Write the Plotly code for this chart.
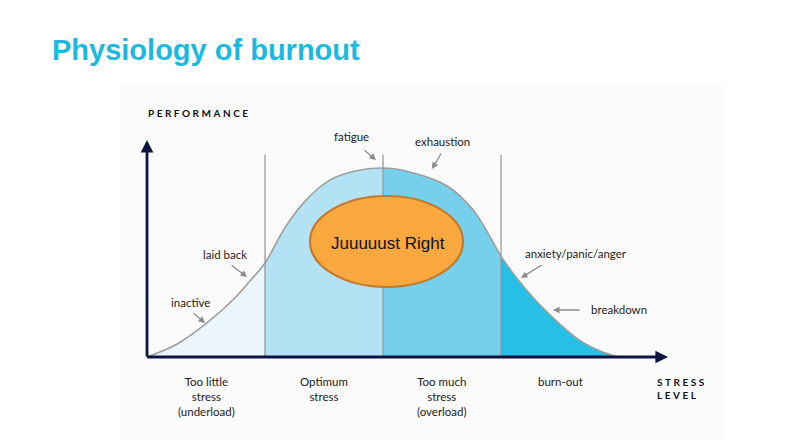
import plotly.graph_objects as go

# ---- data (stress level 0-100, performance 0-100) ----
stress = [0, 6.4, 12.7, 18.6, 21.8, 25, 29.2, 33.5, 38.8, 44.1, 50, 55.7, 63.6, 69.1, 72.7,
          75, 79, 84.3, 91.3, 96, 100]
performance = [0, 6.9, 18.0, 31.2, 40.2, 49.7, 68.3, 82.5, 93.7, 98.4, 100, 97.9, 90.5, 77.8,
               63.5, 53.4, 39.7, 24.9, 9.5, 3.2, 0]
zone_bounds = [0, 25, 50, 75, 100]
zone_labels = ["Too little<br>stress<br>(underload)", "Optimum<br>stress",
               "Too much<br>stress<br>(overload)", "burn-out"]
zone_colors = ["#ebf6fc", "#b3e2f4", "#76cfeb", "#27bfe4"]
curve_notes = ["fatigue", "exhaustion", "laid back", "inactive", "anxiety/panic/anger", "breakdown"]

# page offset (body margin) and pixel scale
OFF = 8
W, H = 800 - OFF, 446 - OFF
X0, Y0 = 147 - OFF, 357 - OFF          # origin inside figure (px)
XS, YS = 4.72, 1.89                    # px per unit
x_range = [-X0 / XS, (W - X0) / XS]
y_range = [(Y0 - H) / YS, Y0 / YS]

def px(xs, ys):
    """screen pixel position -> data units"""
    return ((xs - OFF - X0) / XS, (Y0 - (ys - OFF)) / YS)

fig = go.Figure()

# zone fills
for i in range(4):
    a, b = zone_bounds[i], zone_bounds[i + 1]
    idx = [k for k, x in enumerate(stress) if a <= x <= b]
    fig.add_trace(go.Scatter(x=[stress[k] for k in idx], y=[performance[k] for k in idx],
                             mode="lines", line=dict(width=0, shape="spline"),
                             fill="tozeroy", fillcolor=zone_colors[i], hoverinfo="skip",
                             showlegend=False))

# outline
fig.add_trace(go.Scatter(x=stress, y=performance, mode="lines",
                         line=dict(color="#9e9e9e", width=1.6, shape="spline"),
                         hoverinfo="skip", showlegend=False))

shapes = []
shapes.append(dict(type="rect", xref="paper", yref="paper", x0=(120 - OFF) / W, x1=(723 - OFF) / W,
                   y0=1 - (440 - OFF) / H, y1=1 - (85 - OFF) / H, fillcolor="#fbfbfb",
                   line=dict(width=0), layer="below"))
for b in zone_bounds[1:4]:
    shapes.append(dict(type="line", x0=b, x1=b, y0=0, y1=107, xref="x", yref="y",
                       line=dict(color="#9a9a9a", width=1.3)))
e0 = px(310, 287)
e1 = px(463, 196)
shapes.append(dict(type="circle", xref="x", yref="y", x0=e0[0], x1=e1[0], y0=e0[1], y1=e1[1],
                   fillcolor="#f9a83f", line=dict(color="#c47a2a", width=2.2)))

ann = []
NAVY = "#0d1440"
ann.append(dict(x=0, y=px(0, 140)[1], ax=0, ay=-0.5, xref="x", yref="y", axref="x", ayref="y",
                text="", showarrow=True, arrowhead=2, arrowsize=0.9, arrowwidth=2.8,
                arrowcolor=NAVY))
ann.append(dict(x=px(668, 0)[0], y=0, ax=-0.3, ay=0, xref="x", yref="y", axref="x", ayref="y",
                text="", showarrow=True, arrowhead=2, arrowsize=0.9, arrowwidth=2.8,
                arrowcolor=NAVY))

LBL = dict(family="Lato, Noto Sans, sans-serif", size=11.5, color="#222222")

for i, t in enumerate(zone_labels):
    ann.append(dict(x=(zone_bounds[i] + zone_bounds[i + 1]) / 2, y=px(0, 373)[1],
                    xref="x", yref="y", text=t, showarrow=False, yanchor="top",
                    xanchor="center", align="center", font=LBL))

def spaced(s):
    return "\u2009\u2009".join(list(s))

p = px(655, 374)
ann.append(dict(x=p[0], y=p[1], xref="x", yref="y",
                text="<b>" + spaced("STRESS") + "<br>" + spaced("LEVEL") + "</b>",
                showarrow=False, xanchor="left", yanchor="top", align="left",
                font=dict(family="Lato, Noto Sans, sans-serif", size=10, color="#111111")))
p = px(146, 113)
ann.append(dict(x=p[0], y=p[1], xref="x", yref="y",
                text="<b>" + spaced("PERFORMANCE") + "</b>", showarrow=False,
                xanchor="left", yanchor="middle",
                font=dict(family="Lato, Noto Sans, sans-serif", size=10, color="#111111")))

# curve notes (screen px): text centre, arrow tail, arrow head
note_pos = [(351, 136), (442, 141), (225, 254), (190, 302), (576, 253), (619, 309)]
note_tail = [(363, 149), (442, 152), (230, 264), (192, 312), (543, 264), (581, 310)]
note_head = [(376, 160), (432, 169), (247, 277), (205, 323), (521, 278), (553, 310)]
for t, pp, tl, hd in zip(curve_notes, note_pos, note_tail, note_head):
    a = px(*pp); b = px(*tl); c = px(*hd)
    ann.append(dict(x=a[0], y=a[1], xref="x", yref="y", text=t, showarrow=False,
                    xanchor="center", yanchor="middle", font=LBL))
    ann.append(dict(x=c[0], y=c[1], ax=b[0], ay=b[1], xref="x", yref="y",
                    axref="x", ayref="y", text="", showarrow=True, arrowhead=2,
                    arrowsize=1, arrowwidth=1.3, arrowcolor="#8a8a8a"))

p = px(388, 243)
ann.append(dict(x=p[0], y=p[1], xref="x", yref="y", text="Juuuuust Right", showarrow=False,
                font=dict(family="Liberation Sans, Arial, sans-serif", size=17, color="#111111")))

ann.append(dict(x=(50 - OFF) / W, y=1 - (50 - OFF) / H, xref="paper", yref="paper",
                text="<b>Physiology of burnout</b>", showarrow=False, xanchor="left",
                yanchor="middle",
                font=dict(family="Liberation Sans, Arial, sans-serif", size=29, color="#1bb8e0")))

fig.update_layout(
    width=W, height=H, margin=dict(l=0, r=0, t=0, b=0),
    paper_bgcolor="white", plot_bgcolor="rgba(0,0,0,0)",
    xaxis=dict(range=x_range, visible=False, fixedrange=True),
    yaxis=dict(range=y_range, visible=False, fixedrange=True),
    shapes=shapes, annotations=ann, showlegend=False,
)

fig.write_html("out.html")
